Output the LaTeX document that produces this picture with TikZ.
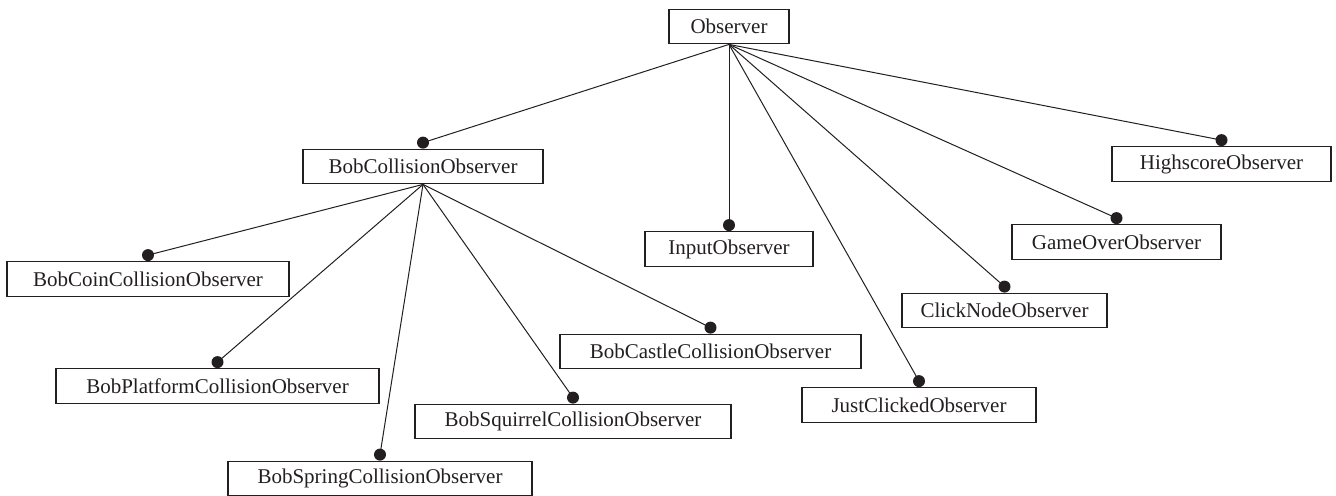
\documentclass[tikz,border=0pt]{standalone}
\usepackage{fontspec}
\setmainfont{Liberation Serif}
\definecolor{ink}{HTML}{231F20}
\begin{document}
\begin{tikzpicture}[x=0.5pt,y=-0.5pt,
  box/.style={draw=ink, line width=0.65pt, minimum height=17.25pt, inner sep=0pt, text=ink, font=\fontsize{10.5}{12}\selectfont},
  ball/.style={circle, fill=ink, inner sep=0pt, minimum size=6pt},
  conn/.style={draw=ink, line width=0.5pt}]
\useasboundingbox (0,0) rectangle (1336,495);
\node[box, minimum width=60pt]   (obs) at (729,26.5)   {Observer};
\node[box, minimum width=120pt]  (bco) at (423,166.5)  {BobCollisionObserver};
\node[box, minimum width=141pt]  (coin) at (148,279)   {BobCoinCollisionObserver};
\node[box, minimum width=161.5pt](plat) at (217.5,386) {BobPlatformCollisionObserver};
\node[box, minimum width=152pt]  (spr) at (380,478.5)  {BobSpringCollisionObserver};
\node[box, minimum width=158pt]  (sq) at (573,421.5)   {BobSquirrelCollisionObserver};
\node[box, minimum width=150.5pt](cas) at (710.5,351.5){BobCastleCollisionObserver};
\node[box, minimum width=84pt]   (inp) at (729,249)    {InputObserver};
\node[box, minimum width=117pt]  (jc) at (919,405)     {JustClickedObserver};
\node[box, minimum width=102.5pt](cn) at (1004.5,310.5){ClickNodeObserver};
\node[box, minimum width=104.5pt](go) at (1116.5,242)  {GameOverObserver};
\node[box, minimum width=109.5pt](hs) at (1221.5,164)  {HighscoreObserver};
\foreach \c in {bco,inp,jc,cn,go,hs}
  \draw[conn] (obs.south) -- ([yshift=3pt]\c.north) node[ball]{};
\foreach \c in {coin,plat,spr,sq,cas}
  \draw[conn] (bco.south) -- ([yshift=3pt]\c.north) node[ball]{};
\end{tikzpicture}
\end{document}
